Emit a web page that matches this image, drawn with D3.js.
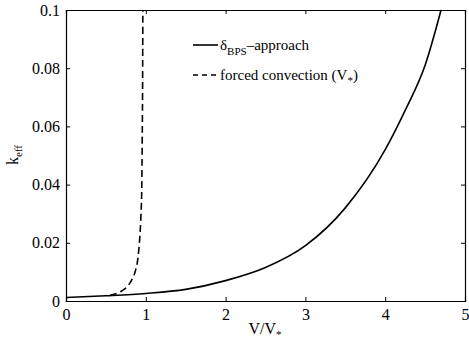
<!DOCTYPE html>
<html>
<head>
<meta charset="utf-8">
<script src="https://cdn.jsdelivr.net/npm/d3@7"></script>
<style>
body { margin: 0; background: #fff; }
svg text { font-family: "Liberation Serif", "DejaVu Serif", serif; }
</style>
</head>
<body>
<svg id="graphique" width="469" height="347"></svg>
<script>
// solid curve: delta_BPS approach
var bpsV = [0, 0.5, 1, 1.5, 2, 2.5, 3, 3.5, 4, 4.25, 4.5, 4.7];
var bpsK = [0.0012, 0.0018, 0.0026, 0.0040, 0.0070, 0.0115, 0.0190, 0.0320, 0.0520, 0.0655, 0.0810, 0.1];

// dashed curve: forced convection
var fcV = [0.55, 0.6, 0.7, 0.78, 0.83, 0.87, 0.9, 0.925, 0.94, 0.95, 0.955, 0.96, 0.963];
var fcK = [0.0020, 0.0023, 0.0035, 0.0053, 0.0076, 0.0104, 0.0145, 0.0220, 0.0300, 0.0400, 0.0550, 0.0750, 0.1];

var xTicks = [0, 1, 2, 3, 4, 5];
var yTicks = [0, 0.02, 0.04, 0.06, 0.08, 0.1];
var yTickLabels = ["0", "0.02", "0.04", "0.06", "0.08", "0.1"];

var graphique = d3.select("#graphique");
var MARGINS = { top: 10, right: 4, bottom: 46, left: 66 };
var WIDTH = 469, HEIGHT = 347;

var xScale = d3.scaleLinear().domain([0, 5]).range([MARGINS.left, WIDTH - MARGINS.right]);
var yScale = d3.scaleLinear().domain([0, 0.1]).range([HEIGHT - MARGINS.bottom, MARGINS.top]);

// axes, ticks pointing inward, box on all sides
var xAxis = d3.axisBottom(xScale).tickValues(xTicks).tickSize(-4).tickPadding(8).tickFormat(d3.format("d"));
var yAxis = d3.axisLeft(yScale).tickValues(yTicks).tickSize(-4).tickPadding(6)
	.tickFormat(function(d, i){ return yTickLabels[i]; });
var xTop = d3.axisTop(xScale).tickValues(xTicks).tickSize(-4).tickFormat("");
var yRight = d3.axisRight(yScale).tickValues(yTicks).tickSize(-4).tickFormat("");

function styleAxis(g){
	g.attr("font-family", null);
	g.selectAll("path").attr("stroke", "#000").attr("stroke-width", 1.2);
	g.selectAll("line").attr("stroke", "#000");
	g.selectAll("text").attr("fill", "#000").style("font-size", "16px");
}

graphique.append("g").attr("transform", "translate(0," + yScale(0) + ")").call(xAxis).call(styleAxis);
graphique.append("g").attr("transform", "translate(" + xScale(0) + ",0)").call(yAxis).call(styleAxis);
graphique.append("g").attr("transform", "translate(0," + yScale(0.1) + ")").call(xTop).call(styleAxis);
graphique.append("g").attr("transform", "translate(" + xScale(5) + ",0)").call(yRight).call(styleAxis);

// curves
var line = d3.line()
	.x(function(d){ return xScale(d[0]); })
	.y(function(d){ return yScale(d[1]); })
	.curve(d3.curveMonotoneX);

graphique.append("path")
	.attr("d", line(d3.zip(bpsV, bpsK)))
	.attr("stroke", "#000").attr("stroke-width", 1.6).attr("fill", "none");

graphique.append("path")
	.attr("d", line(d3.zip(fcV, fcK)))
	.attr("stroke", "#000").attr("stroke-width", 1.6).attr("fill", "none")
	.attr("stroke-dasharray", "7,4");

// legende
var leg = graphique.append("g").style("font-size", "15px");
leg.append("line").attr("x1", 193).attr("x2", 218).attr("y1", 45).attr("y2", 45)
	.attr("stroke", "#000").attr("stroke-width", 1.6);
var t1 = leg.append("text").attr("x", 220).attr("y", 50);
t1.append("tspan").text("δ");
t1.append("tspan").attr("dy", 5).style("font-size", "11px").text("BPS");
t1.append("tspan").attr("dy", -5).text("–approach");

leg.append("line").attr("x1", 193).attr("x2", 218).attr("y1", 75).attr("y2", 75)
	.attr("stroke", "#000").attr("stroke-width", 1.6).attr("stroke-dasharray", "5,4");
var t2 = leg.append("text").attr("x", 220).attr("y", 80);
t2.append("tspan").text("forced convection (V");
t2.append("tspan").attr("dy", 4).style("font-size", "11px").text("*");
t2.append("tspan").attr("dy", -4).text(")");

// axis labels
var yl = graphique.append("text")
	.attr("transform", "translate(18,155) rotate(-90)")
	.attr("text-anchor", "middle").style("font-size", "16px");
yl.append("tspan").text("k");
yl.append("tspan").attr("dy", 4).style("font-size", "11px").text("eff");

var xl = graphique.append("text")
	.attr("x", 265).attr("y", 334)
	.attr("text-anchor", "middle").style("font-size", "16px");
xl.append("tspan").text("V/V");
xl.append("tspan").attr("dy", 4).style("font-size", "11px").text("*");
</script>
</body>
</html>
